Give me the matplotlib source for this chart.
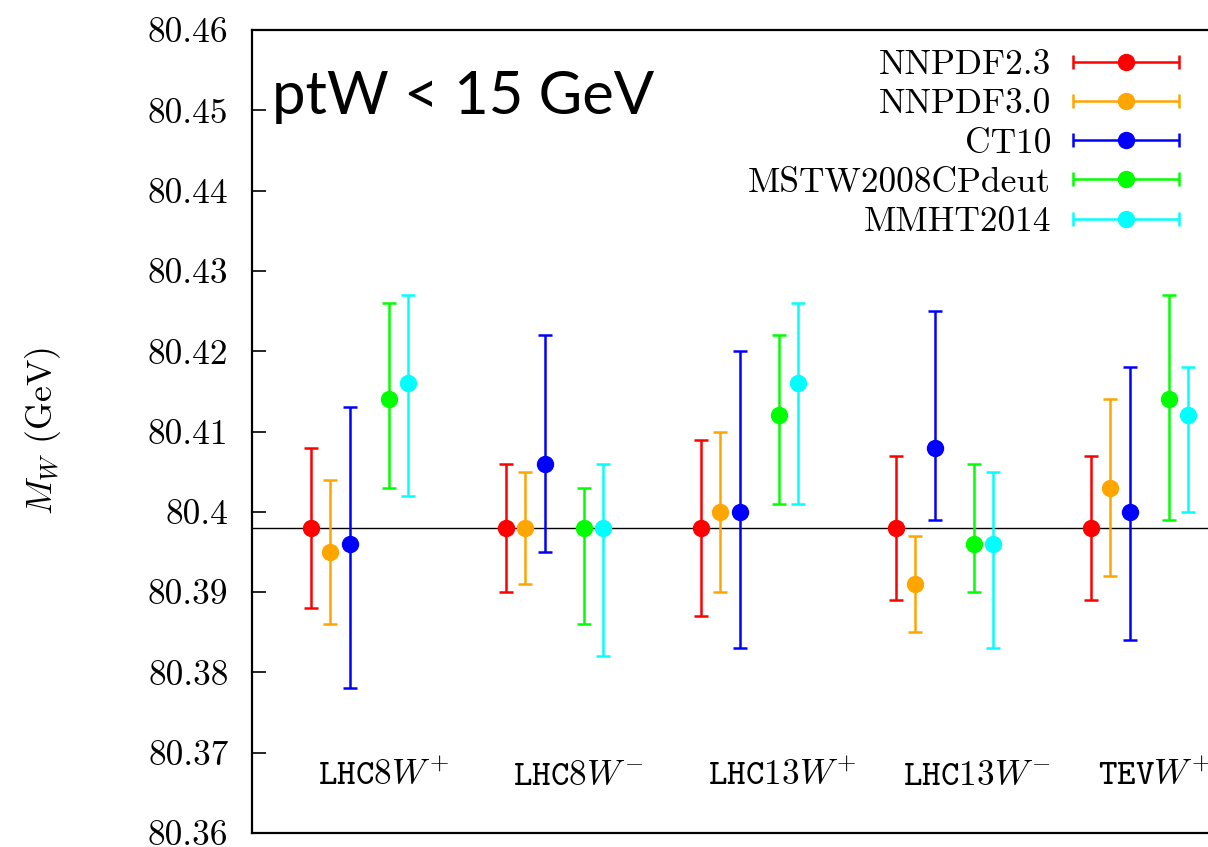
import numpy as np
import matplotlib
matplotlib.use("Agg")
import matplotlib.pyplot as plt
from matplotlib.container import ErrorbarContainer
from matplotlib.legend_handler import HandlerErrorbar

plt.rcParams['font.family'] = 'cmr10'
plt.rcParams['mathtext.fontset'] = 'cm'
plt.rcParams['axes.unicode_minus'] = False

categories = [r'$\mathtt{LHC8}W^{+}$', r'$\mathtt{LHC8}W^{-}$',
              r'$\mathtt{LHC13}W^{+}$', r'$\mathtt{LHC13}W^{-}$',
              r'$\mathtt{TEV}W^{+}$']
pdf_sets = ['NNPDF2.3', 'NNPDF3.0', 'CT10', 'MSTW2008CPdeut', 'MMHT2014']
colors = ['#ff0000', '#ffa500', '#0000ff', '#00ff00', '#00ffff']

# fitted W mass (GeV): central value, lower and upper end of the band
nnpdf23_c = [80.398, 80.398, 80.398, 80.398, 80.398]
nnpdf23_lo = [80.388, 80.390, 80.387, 80.389, 80.389]
nnpdf23_hi = [80.408, 80.406, 80.409, 80.407, 80.407]

nnpdf30_c = [80.395, 80.398, 80.400, 80.391, 80.403]
nnpdf30_lo = [80.386, 80.391, 80.390, 80.385, 80.392]
nnpdf30_hi = [80.404, 80.405, 80.410, 80.397, 80.414]

ct10_c = [80.396, 80.406, 80.400, 80.408, 80.400]
ct10_lo = [80.378, 80.395, 80.383, 80.399, 80.384]
ct10_hi = [80.413, 80.422, 80.420, 80.425, 80.418]

mstw_c = [80.414, 80.398, 80.412, 80.396, 80.414]
mstw_lo = [80.403, 80.386, 80.401, 80.390, 80.399]
mstw_hi = [80.426, 80.403, 80.422, 80.406, 80.427]

mmht_c = [80.416, 80.398, 80.416, 80.396, 80.412]
mmht_lo = [80.402, 80.382, 80.401, 80.383, 80.400]
mmht_hi = [80.427, 80.406, 80.426, 80.405, 80.418]

mw_reference = 80.398

ytick_values = [80.36, 80.37, 80.38, 80.39, 80.40, 80.41,
                80.42, 80.43, 80.44, 80.45, 80.46]
ytick_labels = ['80.36', '80.37', '80.38', '80.39', '80.4', '80.41',
                '80.42', '80.43', '80.44', '80.45', '80.46']

series = [
    (nnpdf23_c, nnpdf23_lo, nnpdf23_hi),
    (nnpdf30_c, nnpdf30_lo, nnpdf30_hi),
    (ct10_c, ct10_lo, ct10_hi),
    (mstw_c, mstw_lo, mstw_hi),
    (mmht_c, mmht_lo, mmht_hi),
]
offsets = [-0.2, -0.1, 0.0, 0.2, 0.3]

fig = plt.figure(figsize=(12.08, 8.47), dpi=100)
ax = fig.add_axes([252 / 1208, 14 / 847, 975 / 1208, 803 / 847])

x = np.arange(1, len(categories) + 1)
err_kw = dict(fmt='o', ms=11.5, lw=1.8, capsize=5.0, capthick=1.8)

for (c, lo, hi), col, off in zip(series, colors, offsets):
    c, lo, hi = np.array(c), np.array(lo), np.array(hi)
    ax.errorbar(x + off, c, yerr=[c - lo, hi - c], color=col, zorder=3, **err_kw)

ax.axhline(mw_reference, color='black', lw=1.0, zorder=1)

ax.set_xlim(0.5, 5.5)
ax.set_ylim(80.36, 80.46)
ax.set_xticks([])
ax.set_yticks(ytick_values)
ax.set_yticklabels(ytick_labels, fontsize=25.5)
ax.tick_params(axis='y', direction='in', length=10, width=1.2, pad=17)
for side in ['left', 'top', 'bottom', 'right']:
    ax.spines[side].set_linewidth(1.6)

ax.set_ylabel(r'$M_W$ (GeV)', fontsize=25.5)
ax.yaxis.set_label_coords(-0.194, 0.5)

for xi, lab in zip(x, categories):
    ax.text(xi - 0.16, 80.366, lab, fontsize=25.5, ha='left', va='baseline')

ax.text(0.0205, 0.917, 'ptW < 15 GeV', transform=ax.transAxes,
        family='Lato', fontsize=43, ha='left', va='center')

# legend entries drawn as horizontal error bars
handles = []
for name, col in zip(pdf_sets, colors):
    h = ax.errorbar([np.nan], [np.nan], xerr=[1.0], color=col, **err_kw)
    handles.append(h)

ax.legend(handles, pdf_sets, loc='upper right', bbox_to_anchor=(0.952, 0.976),
          markerfirst=False, frameon=False, fontsize=25.5, handlelength=3.05,
          handletextpad=0.6, labelspacing=0.21, borderaxespad=0, borderpad=0,
          numpoints=1,
          handler_map={ErrorbarContainer: HandlerErrorbar(xerr_size=1.5)})

fig.savefig('out.png', dpi=100)
